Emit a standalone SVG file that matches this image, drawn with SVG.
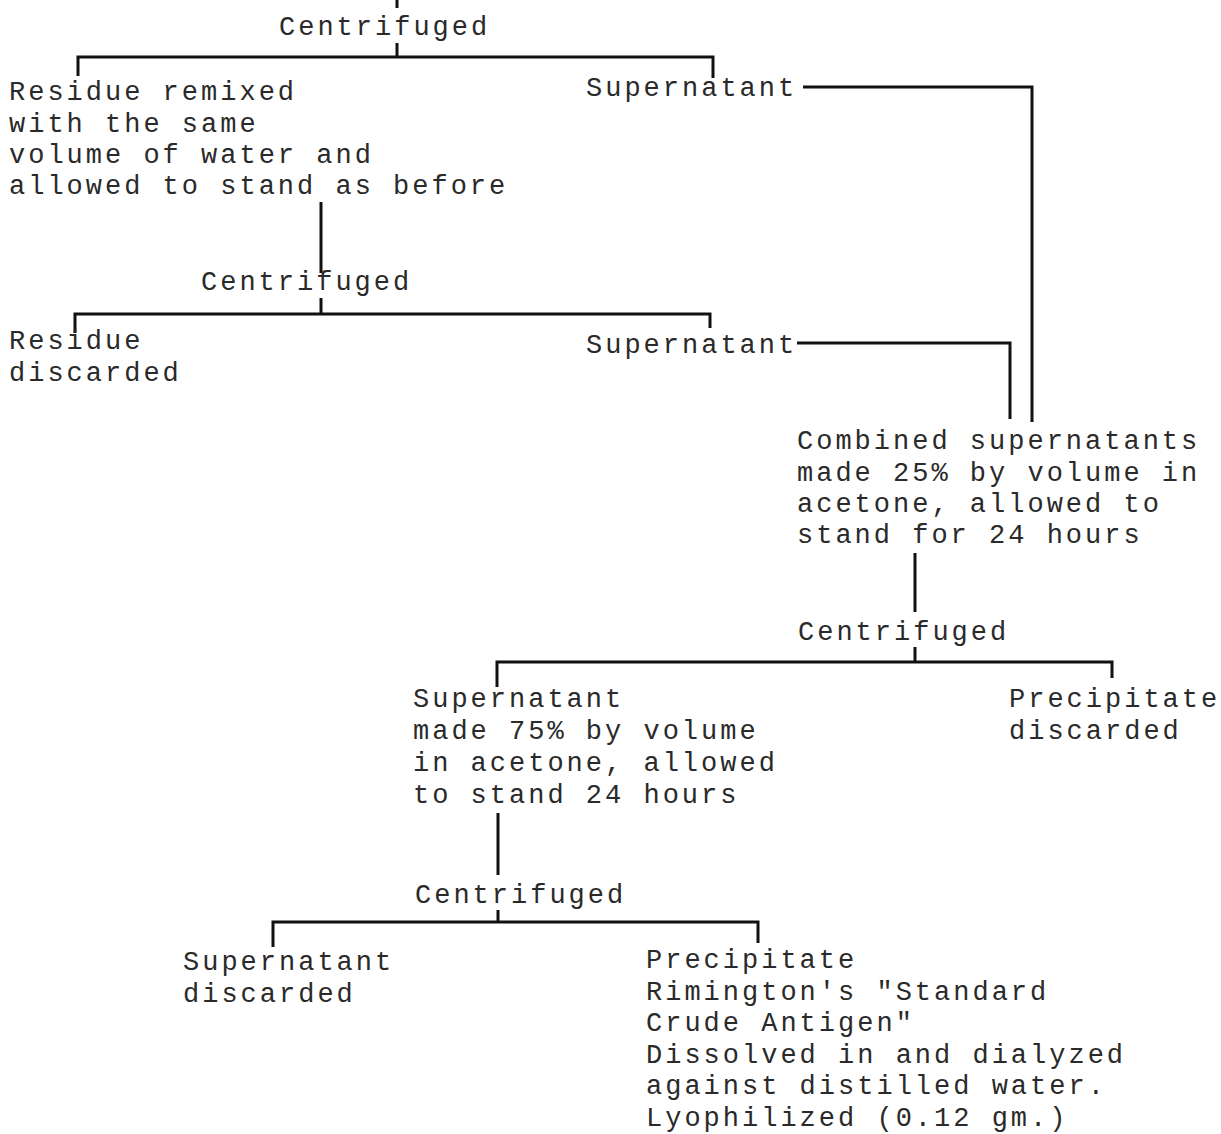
<svg xmlns="http://www.w3.org/2000/svg" width="1221" height="1134" viewBox="0 0 1221 1134">
<style>
text{font-family:"Liberation Mono","Courier New",monospace;font-size:27px;letter-spacing:3.0px;fill:#2a2a2a}
.c{fill:none;stroke:#111;stroke-width:3;stroke-linecap:butt;stroke-linejoin:miter}
</style>
<rect width="1221" height="1134" fill="#fff"/>
<g id="connectors">
<path class="c" d="M397 0V8"/>
<path class="c" d="M397 43V57"/>
<path class="c" d="M78 76V57H713V78"/>
<path class="c" d="M803 87H1032V422"/>
<path class="c" d="M321 202V273"/>
<path class="c" d="M321 298V314"/>
<path class="c" d="M75 333V314H710V328"/>
<path class="c" d="M797 343H1010V419"/>
<path class="c" d="M915 553V612"/>
<path class="c" d="M915 647V662"/>
<path class="c" d="M497 687V662H1112V678"/>
<path class="c" d="M498 813V875"/>
<path class="c" d="M498 910V921"/>
<path class="c" d="M273 947V922H758V943"/>
</g>
<g id="centrifuged1"><text x="279" y="35">Centrifuged</text></g>
<g id="residue1">
<text x="9" y="100">Residue remixed</text>
<text x="9" y="132">with the same</text>
<text x="9" y="163">volume of water and</text>
<text x="9" y="194">allowed to stand as before</text>
</g>
<g id="supernatant1"><text x="586" y="96">Supernatant</text></g>
<g id="centrifuged2"><text x="201" y="290">Centrifuged</text></g>
<g id="residue2">
<text x="9" y="349">Residue</text>
<text x="9" y="381">discarded</text>
</g>
<g id="supernatant2"><text x="586" y="353">Supernatant</text></g>
<g id="combined">
<text x="797" y="449">Combined supernatants</text>
<text x="797" y="481">made 25% by volume in</text>
<text x="797" y="512">acetone, allowed to</text>
<text x="797" y="543">stand for 24 hours</text>
</g>
<g id="centrifuged3"><text x="798" y="640">Centrifuged</text></g>
<g id="supernatant3">
<text x="413" y="707">Supernatant</text>
<text x="413" y="739">made 75% by volume</text>
<text x="413" y="771">in acetone, allowed</text>
<text x="413" y="803">to stand 24 hours</text>
</g>
<g id="precipitate1">
<text x="1009" y="707">Precipitate</text>
<text x="1009" y="739">discarded</text>
</g>
<g id="centrifuged4"><text x="415" y="903">Centrifuged</text></g>
<g id="supernatant4">
<text x="183" y="970">Supernatant</text>
<text x="183" y="1002">discarded</text>
</g>
<g id="precipitate2">
<text x="646" y="968">Precipitate</text>
<text x="646" y="1000">Rimington's "Standard</text>
<text x="646" y="1031">Crude Antigen"</text>
<text x="646" y="1063">Dissolved in and dialyzed</text>
<text x="646" y="1094">against distilled water.</text>
<text x="646" y="1126">Lyophilized (0.12 gm.)</text>
</g>
</svg>
